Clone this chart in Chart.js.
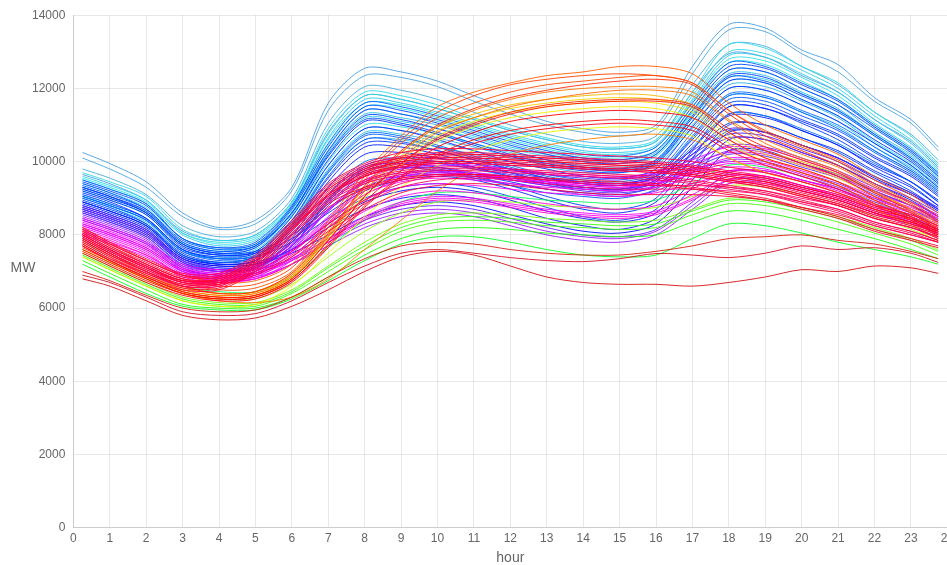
<!DOCTYPE html>
<html><head><meta charset="utf-8">
<script src="https://cdn.jsdelivr.net/npm/chart.js@4"></script>
<style>
html,body{margin:0;padding:0;overflow:hidden;background:#fff;}
#wrap{position:relative;width:958px;height:567px;}
</style></head><body>
<div id="wrap"><canvas id="c"></canvas></div>
<script>
// hour of day for every reading
const hours = [0.25,1,2,3,4,5,6,7,8,9,10,11,12,13,14,15,16,17,18,19,20,21,22,23,23.75];
const yMin = 0, yMax = 14000, yStep = 2000;
const xMin = 0, xMax = 24, xStep = 1;

// pink-red days (thick band)
const pinkHues = [340,345,348,342,350,338,346,352,344,336,347,341,349,343,345,339,348,342,337,350];
const pinkLoads = [
[7950,7550,7100,6700,6750,7250,8200,9150,9700,9950,10050,10050,10000,9950,9900,9850,9800,9700,9550,9400,9150,8900,8550,8300,8050],
[7900,7500,7050,6650,6700,7200,8150,9100,9600,9850,9950,9950,9900,9850,9800,9750,9700,9600,9450,9300,9050,8800,8450,8200,7950],
[8100,7700,7250,6850,6850,7350,8300,9300,9850,10100,10200,10200,10150,10100,10050,10000,9950,9850,9700,9550,9300,9050,8700,8450,8150],
[7850,7450,7000,6600,6650,7150,8050,9000,9500,9750,9850,9850,9800,9750,9700,9650,9600,9500,9350,9200,8950,8700,8350,8100,7850],
[8000,7600,7150,6750,6800,7300,8250,9200,9750,10000,10100,10100,10050,10000,9950,9900,9850,9750,9600,9450,9200,8950,8600,8350,8100],
[7800,7400,6950,6600,6600,7100,8000,8900,9400,9650,9750,9750,9700,9650,9600,9550,9500,9400,9250,9100,8850,8600,8250,8000,7800],
[8200,7800,7350,6950,6950,7450,8400,9400,9950,10250,10350,10350,10300,10250,10200,10150,10100,10000,9850,9700,9450,9150,8800,8550,8250],
[7750,7350,6900,6550,6550,7050,7950,8850,9300,9550,9650,9650,9600,9550,9500,9450,9400,9300,9150,9000,8750,8500,8150,7900,7700],
[7900,7500,7050,6700,6650,6900,7400,8100,8700,9150,9350,9400,9350,9250,9150,9100,9100,9100,9050,8950,8750,8550,8250,8000,7800],
[8000,7600,7150,6750,6700,7000,7550,8300,8950,9400,9600,9650,9600,9500,9400,9350,9350,9350,9300,9200,9000,8800,8450,8200,7950],
[7700,7300,6850,6500,6500,7000,7850,8750,9250,9500,9600,9600,9550,9500,9450,9400,9350,9250,9100,8950,8700,8450,8100,7850,7650],
[8150,7750,7300,6900,6900,7400,8350,9350,9900,10150,10250,10250,10200,10150,10100,10050,10000,9900,9750,9600,9350,9100,8750,8500,8200],
[7950,7550,7100,6750,6750,7250,8200,9100,9650,9900,10000,10000,9950,9900,9850,9800,9750,9650,9500,9350,9100,8850,8500,8250,8000],
[8050,7650,7200,6800,6800,7300,8250,9250,9800,10050,10150,10150,10100,10050,10000,9950,9900,9800,9650,9500,9250,9000,8650,8400,8100],
[8050,7650,7200,6800,6750,7250,8150,9050,9600,9900,10000,10000,9950,9900,9850,9800,9750,9650,9500,9350,9100,8850,8550,8300,8050],
[7850,7450,7000,6650,6650,7150,8100,9050,9600,9850,9950,9950,9900,9850,9800,9750,9700,9600,9450,9300,9050,8800,8450,8200,7900],
[8150,7750,7300,6900,6850,7350,8300,9250,9800,10100,10200,10200,10150,10100,10050,10000,9950,9850,9700,9550,9300,9050,8700,8450,8150],
[7750,7350,6950,6600,6600,7100,8000,8950,9450,9700,9800,9800,9750,9700,9650,9600,9550,9450,9300,9150,8900,8650,8300,8050,7800],
[8000,7600,7150,6750,6700,6950,7450,8200,8850,9300,9500,9550,9500,9400,9300,9250,9250,9250,9200,9100,8900,8700,8350,8100,7850],
[7950,7550,7100,6700,6700,7200,8150,9100,9700,10000,10100,10100,10050,10000,9950,9900,9850,9750,9600,9450,9200,8950,8600,8350,8050]
];

// lowest red days
const lowRedHues = [0,355,5];
const lowRedLoads = [
[6800,6600,6200,5800,5680,5730,6050,6500,7000,7400,7550,7450,7150,6850,6700,6650,6650,6600,6700,6850,7050,7000,7150,7100,6950],
[6900,6700,6300,5900,5800,5850,6200,6700,7150,7500,7600,7500,7380,7300,7270,7350,7490,7450,7380,7500,7700,7600,7650,7500,7250],
[7000,6750,6350,6000,5900,5950,6300,6850,7350,7700,7800,7750,7600,7500,7450,7450,7550,7700,7900,7950,8000,7850,7750,7550,7350]
];

// summer red / orange days
const summerHues = [22,18,10,25,5,0,355,30,15,8,28,2];
const summerLoads = [
[8200,7800,7300,6900,6700,6750,7200,8400,9700,10700,11500,11900,12150,12350,12450,12600,12600,12400,11600,11000,10600,10200,9600,9100,8600],
[8000,7600,7100,6700,6500,6550,7000,8200,9500,10500,11200,11600,11900,12100,12200,12300,12350,12150,11400,10800,10400,10000,9400,8900,8400],
[7900,7500,7000,6600,6400,6450,6950,8050,9350,10300,11000,11450,11750,11950,12100,12200,12250,12100,11300,10700,10300,9900,9350,8850,8350],
[7800,7400,6900,6500,6350,6400,6850,7950,9200,10100,10800,11200,11500,11700,11850,11950,11950,11800,11100,10500,10100,9750,9200,8700,8200],
[7700,7300,6850,6450,6300,6350,6800,7850,9050,9950,10600,11000,11300,11500,11600,11650,11650,11500,10800,10300,9950,9600,9050,8600,8100],
[7600,7250,6800,6400,6250,6300,6750,7750,8900,9750,10400,10800,11100,11250,11350,11400,11350,11200,10600,10100,9800,9450,8950,8500,8050],
[7500,7150,6700,6350,6200,6250,6700,7650,8750,9550,10150,10500,10750,10900,11000,11050,11000,10850,10300,9900,9600,9250,8800,8400,7950],
[7700,7300,6800,6400,6200,6150,6300,6800,7600,8400,9200,9800,10200,10450,10600,10700,10750,10600,10100,9700,9450,9150,8700,8300,7900],
[8100,7700,7200,6800,6600,6650,7100,8300,9600,10600,11350,11800,12100,12250,12350,12400,12350,12150,11400,10850,10450,10050,9500,9000,8500],
[7650,7300,6850,6450,6300,6350,6800,7850,9050,9950,10650,11050,11350,11550,11650,11700,11700,11550,10900,10400,10050,9700,9150,8650,8150],
[7850,7450,6950,6550,6400,6450,6900,8000,9300,10250,10950,11400,11700,11900,12000,12050,12050,11900,11150,10600,10200,9850,9300,8800,8300],
[7550,7200,6750,6400,6250,6300,6750,7700,8800,9600,10200,10600,10850,11000,11100,11150,11100,10950,10400,10000,9700,9350,8850,8450,8000]
];

// yellow days
const yellowHues = [52,55,58,45,62];
const yellowLoads = [
[7800,7400,6900,6500,6350,6400,6900,8000,9200,10150,10850,11200,11450,11600,11700,11750,11700,11450,10700,10200,9900,9550,9050,8600,8150],
[7700,7300,6850,6450,6300,6350,6850,7950,9100,10050,10700,11100,11350,11500,11600,11650,11600,11350,10600,10100,9800,9450,8950,8500,8050],
[7600,7250,6800,6400,6250,6300,6800,7900,9000,9900,10550,10950,11200,11350,11450,11500,11450,11200,10500,10000,9700,9350,8850,8400,7950],
[7900,7500,7000,6600,6400,6450,6950,8100,9300,10250,10950,11300,11550,11700,11800,11850,11800,11550,10800,10300,10000,9650,9150,8700,8250],
[7400,7050,6600,6200,6050,6100,6600,7500,8500,9300,9900,10300,10600,10800,10900,10950,10900,10700,10100,9700,9450,9150,8700,8250,7800]
];

// magenta days
const magentaHues = [290,295,300,305,298,310,288,302,293,307,296,304];
const magentaLoads = [
[8300,8050,7650,7050,6900,7000,7600,8500,9300,9650,9750,9700,9600,9500,9450,9400,9500,9800,10000,9950,9650,9350,9000,8700,8400],
[8200,7950,7550,6950,6800,6900,7500,8400,9200,9550,9650,9600,9500,9400,9350,9300,9400,9650,9850,9800,9500,9250,8900,8600,8300],
[8350,8100,7700,7100,6950,7050,7550,8350,9100,9500,9650,9650,9550,9450,9350,9300,9400,9750,10100,10050,9750,9450,9050,8750,8450],
[8150,7900,7500,6900,6750,6850,7400,8300,9100,9450,9550,9500,9400,9300,9250,9200,9300,9550,9750,9700,9450,9150,8800,8550,8250],
[8250,8000,7600,7000,6850,6900,7300,7900,8500,8900,9050,9000,8850,8700,8600,8550,8650,9100,9600,9600,9350,9100,8750,8450,8150],
[8100,7850,7450,6900,6750,6800,7200,7800,8400,8800,8950,8900,8750,8600,8500,8450,8550,8950,9400,9400,9200,8950,8600,8300,8050],
[8400,8150,7750,7150,7000,7100,7700,8650,9450,9800,9900,9850,9750,9650,9600,9550,9650,9950,10250,10200,9900,9600,9150,8800,8500],
[8000,7750,7400,6850,6700,6800,7300,8200,8950,9300,9400,9350,9250,9150,9100,9050,9150,9400,9650,9600,9350,9050,8700,8400,8150],
[8450,8200,7800,7200,7050,7150,7750,8700,9500,9850,9950,9900,9800,9700,9650,9600,9700,10050,10400,10350,10050,9700,9250,8900,8550],
[8300,8050,7650,7050,6900,6950,7350,8000,8650,9050,9200,9150,9000,8850,8750,8700,8800,9250,9750,9750,9500,9200,8850,8550,8250],
[8250,8000,7600,7000,6850,6950,7550,8450,9250,9600,9700,9650,9550,9450,9400,9350,9450,9700,9950,9900,9600,9300,8950,8650,8350],
[8050,7800,7450,6900,6750,6800,7200,7850,8450,8850,9000,8950,8800,8650,8550,8500,8600,9000,9500,9500,9250,9000,8650,8350,8100]
];

// green days
const greenHues = [95,105,115,125,85,110,140];
const greenLoads = [
[7500,7150,6700,6300,6150,6150,6500,7150,7800,8300,8550,8600,8550,8450,8400,8350,8400,8700,9000,8950,8750,8500,8200,7900,7600],
[7400,7050,6600,6200,6050,6050,6400,7000,7600,8100,8350,8400,8350,8250,8200,8150,8200,8550,8850,8800,8600,8350,8050,7750,7450],
[7300,6950,6500,6100,6000,6000,6300,6850,7450,7900,8150,8200,8150,8050,8000,7950,8000,8350,8650,8600,8400,8150,7900,7600,7350],
[7200,6850,6400,6050,5950,5950,6250,6750,7300,7750,7950,7950,7800,7600,7450,7400,7450,7900,8300,8250,8050,7800,7600,7400,7200],
[7600,7250,6800,6400,6250,6250,6650,7400,8100,8600,8900,8950,8900,8800,8750,8700,8750,9050,9350,9300,9100,8850,8500,8150,7850],
[7450,7100,6650,6250,6100,6100,6450,7100,7700,8200,8450,8500,8450,8350,8300,8250,8300,8650,8950,8900,8700,8450,8150,7850,7550],
[7800,7450,7000,6600,6450,6450,6850,7650,8400,8900,9150,9150,9050,8950,8900,8850,8950,9400,9900,9850,9600,9300,8900,8500,8100]
];

// violet days
const violetHues = [255,260,265,270,262,275,258,268,252,272];
const violetLoads = [
[8800,8550,8150,7350,7100,7200,7900,9100,9900,10100,10100,9950,9800,9650,9550,9500,9700,10300,10900,10800,10450,10100,9600,9150,8750],
[8700,8450,8050,7250,7000,7100,7800,8950,9750,9950,9950,9800,9650,9500,9400,9350,9550,10100,10650,10600,10250,9900,9400,9000,8600],
[8600,8350,7950,7150,6950,7050,7700,8800,9600,9800,9850,9700,9550,9400,9300,9250,9400,9950,10450,10400,10100,9750,9300,8900,8500],
[8550,8300,7900,7100,6900,7000,7650,8700,9450,9700,9750,9650,9500,9350,9250,9200,9350,9850,10300,10250,9950,9600,9200,8800,8450],
[8700,8450,8050,7300,7050,7050,7350,7900,8400,8700,8800,8700,8450,8200,8000,7950,8150,8900,9700,9750,9500,9250,8850,8500,8150],
[8500,8250,7850,7100,6900,6950,7300,7800,8300,8600,8700,8600,8350,8100,7950,7900,8100,8800,9500,9550,9300,9050,8700,8350,8000],
[8650,8400,8000,7250,7000,7100,7800,8850,9650,9850,9800,9650,9500,9350,9200,9150,9300,9800,10200,10150,9850,9550,9100,8700,8350],
[8450,8200,7800,7050,6850,6950,7600,8650,9400,9600,9650,9550,9400,9250,9100,9050,9200,9700,10050,10000,9700,9400,9000,8600,8250],
[8750,8500,8100,7300,7050,7150,7850,9000,9800,10000,10000,9850,9700,9550,9450,9400,9600,10200,10750,10700,10350,10000,9500,9100,8700],
[8400,8150,7750,7000,6800,6850,7200,7700,8200,8500,8600,8500,8250,8000,7850,7800,8000,8700,9400,9450,9200,8950,8600,8250,7900]
];

// blue winter days
const blueHues = [218,222,225,228,230,215,220,232,226,224,235,238,212,229,221,233,217,236,223,227,231,219];
const blueLoads = [
[9500,9250,8850,7900,7650,7800,8800,10500,11600,11500,11250,10950,10650,10400,10200,10150,10400,11600,12700,12600,12150,11700,11000,10350,9700],
[9400,9150,8700,7800,7550,7700,8700,10300,11400,11300,11050,10750,10450,10200,10000,9950,10200,11400,12500,12450,12000,11550,10900,10250,9600],
[9300,9050,8650,7750,7500,7650,8600,10200,11250,11150,10900,10600,10300,10050,9850,9800,10050,11250,12350,12300,11850,11400,10750,10100,9500],
[9200,8950,8550,7650,7450,7550,8500,10050,11100,11000,10750,10450,10150,9900,9750,9700,9950,11100,12200,12150,11700,11250,10600,10000,9400],
[9150,8900,8450,7600,7400,7500,8400,9900,10900,10850,10600,10300,10000,9800,9600,9550,9800,10950,12000,11950,11550,11100,10500,9900,9300],
[9050,8800,8400,7550,7350,7450,8300,9750,10750,10700,10450,10150,9900,9650,9500,9450,9700,10800,11850,11800,11400,11000,10400,9800,9250],
[9000,8750,8300,7450,7250,7400,8200,9600,10600,10550,10300,10050,9800,9550,9400,9350,9600,10650,11700,11650,11250,10850,10250,9700,9150],
[8900,8650,8250,7400,7200,7300,8100,9450,10400,10400,10200,9950,9700,9450,9300,9250,9500,10500,11500,11450,11100,10700,10100,9600,9050],
[9300,9050,8600,7750,7500,7550,8000,8700,9300,9600,9700,9600,9350,9050,8800,8700,9000,10300,11500,11450,11050,10600,10000,9450,8900],
[9100,8850,8450,7600,7350,7400,7800,8450,9000,9300,9400,9300,9050,8750,8500,8400,8700,9900,11000,11000,10650,10250,9700,9200,8700],
[8900,8650,8250,7450,7200,7250,7600,8200,8700,9000,9100,9000,8750,8450,8250,8150,8450,9500,10600,10600,10250,9900,9400,8950,8500],
[8800,8550,8150,7350,7150,7200,7500,8000,8500,8800,8900,8800,8550,8300,8100,8050,8300,9300,10300,10300,9950,9650,9200,8800,8400],
[8700,8450,8050,7300,7100,7150,7800,9100,10000,10100,10000,9800,9600,9400,9300,9250,9500,10400,11300,11250,10900,10500,9950,9450,8900],
[8600,8350,7950,7200,7000,7100,7700,8950,9850,9950,9850,9650,9450,9250,9150,9100,9350,10200,11050,11000,10650,10300,9750,9300,8800],
[9350,9100,8700,7850,7600,7700,8600,10150,11150,11050,10800,10500,10200,9950,9800,9750,10000,11200,12300,12200,11800,11350,10700,10050,9450],
[8850,8600,8200,7400,7200,7300,8000,9300,10200,10250,10100,9850,9600,9400,9250,9200,9450,10350,11250,11200,10850,10450,9900,9450,8950],
[9050,8800,8400,7550,7300,7400,8250,9700,10700,10650,10400,10100,9850,9600,9450,9400,9650,10700,11800,11750,11350,10900,10300,9750,9200],
[8750,8500,8100,7350,7150,7200,7600,8300,8900,9200,9300,9200,8950,8650,8450,8350,8600,9700,10800,10800,10450,10100,9550,9100,8650],
[9450,9200,8800,7900,7650,7750,8750,10400,11500,11400,11150,10850,10550,10300,10100,10050,10300,11500,12600,12550,12100,11650,10950,10300,9650],
[8950,8700,8300,7500,7250,7350,8150,9550,10500,10500,10300,10050,9800,9550,9400,9350,9600,10600,11600,11550,11150,10750,10150,9650,9100],
[9250,9000,8600,7700,7450,7500,7900,8600,9200,9500,9600,9500,9250,8950,8700,8600,8900,10100,11300,11250,10850,10450,9850,9350,8800],
[8650,8400,8000,7250,7050,7100,7700,8900,9750,9850,9750,9550,9350,9150,9050,9000,9250,10050,10850,10800,10450,10100,9600,9150,8700]
];

// cyan winter days
const cyanHues = [185,190,180,195,188,183,192,197,186,193,182,198];
const cyanLoads = [
[9700,9450,9050,8150,7850,8000,8900,10900,11900,11800,11550,11200,10900,10650,10450,10400,10600,11900,13200,13100,12600,12150,11350,10700,9950],
[9500,9250,8850,8000,7700,7850,8750,10650,11700,11600,11350,11050,10750,10500,10300,10250,10450,11700,12900,12850,12400,11900,11150,10500,9800],
[9400,9150,8750,7900,7600,7750,8650,10450,11500,11450,11200,10900,10600,10350,10150,10100,10300,11500,12700,12650,12200,11700,10950,10300,9700],
[9300,9050,8650,7800,7550,7700,8600,10300,11400,11300,11100,10800,10500,10250,10100,10050,10250,11400,12500,12450,12000,11550,10800,10200,9600],
[9200,8950,8550,7700,7450,7600,8500,10150,11200,11100,10900,10650,10350,10150,10000,9950,10150,11300,12300,12250,11850,11400,10700,10100,9500],
[9100,8850,8450,7600,7400,7550,8400,10000,11000,10950,10750,10500,10250,10050,9900,9850,10050,11200,12200,12150,11700,11250,10550,9950,9400],
[9000,8750,8350,7550,7350,7450,8300,9800,10800,10750,10550,10300,10100,9950,9800,9750,9950,11000,12000,11950,11550,11100,10400,9850,9300],
[8900,8650,8250,7450,7250,7400,8200,9700,10600,10600,10400,10200,10000,9850,9700,9700,9900,10900,11800,11750,11350,10950,10300,9750,9200],
[9600,9350,8950,8050,7800,7950,8850,10750,11800,11700,11450,11150,10850,10600,10400,10350,10550,11800,13000,12950,12500,12000,11250,10600,9900],
[9250,9000,8600,7750,7500,7650,8550,10250,11300,11200,11000,10700,10400,10200,10050,10000,10200,11350,12400,12350,11900,11450,10750,10150,9550],
[9550,9300,8900,8050,7750,7900,8800,10600,11600,11550,11300,11000,10700,10450,10250,10200,10400,11650,12800,12750,12300,11800,11050,10400,9750],
[9050,8800,8400,7600,7350,7500,8350,9900,10900,10850,10650,10400,10150,10000,9850,9800,10000,11100,12100,12050,11650,11200,10500,9900,9350]
];

// steel-blue coldest days
const steelHues = [205,203,200,207];
const steelLoads = [
[10250,9950,9450,8600,8200,8400,9300,11600,12550,12450,12200,11800,11450,11100,10900,10800,11000,12600,13750,13650,13050,12650,11750,11150,10400],
[10100,9800,9300,8500,8150,8300,9200,11400,12350,12300,12050,11650,11300,11000,10800,10700,10900,12400,13600,13550,12950,12450,11650,11050,10300],
[9800,9550,9100,8250,7950,8100,9000,11050,12050,11950,11700,11350,11000,10750,10550,10500,10700,12100,13200,13150,12600,12100,11350,10750,10050],
[9650,9400,8950,8100,7850,8000,8900,10800,11800,11700,11450,11150,10850,10600,10400,10350,10550,11900,12950,12850,12350,11900,11150,10550,9850]
];

// drawing groups, first listed is drawn on top
const groups = [
  {hues: pinkHues, loads: pinkLoads, s: 100, l: 50},
  {hues: lowRedHues, loads: lowRedLoads, s: 85, l: 45},
  {hues: summerHues, loads: summerLoads, s: 100, l: 50},
  {hues: yellowHues, loads: yellowLoads, s: 100, l: 48},
  {hues: magentaHues, loads: magentaLoads, s: 100, l: 50},
  {hues: greenHues, loads: greenLoads, s: 100, l: 52},
  {hues: violetHues, loads: violetLoads, s: 100, l: 55},
  {hues: blueHues, loads: blueLoads, s: 100, l: 50},
  {hues: cyanHues, loads: cyanLoads, s: 80, l: 55},
  {hues: steelHues, loads: steelLoads, s: 70, l: 58}
];

const datasets = [];
groups.forEach(g => {
  g.loads.forEach((vals, i) => {
    datasets.push({
      data: hours.map((h, k) => ({x: h, y: vals[k]})),
      borderColor: `hsla(${g.hues[i]}, ${g.s}%, ${g.l}%, 0.9)`,
      borderWidth: 1,
      pointRadius: 0,
      tension: 0.3,
      fill: false
    });
  });
});

const mwLabel = {
  id: 'mwLabel',
  afterDraw(chart) {
    const ctx = chart.ctx;
    ctx.save();
    ctx.font = '14px Arial, "Liberation Sans", sans-serif';
    ctx.fillStyle = '#666';
    ctx.textAlign = 'center';
    ctx.textBaseline = 'middle';
    ctx.fillText('MW', 23, 268);
    ctx.restore();
  }
};

Chart.defaults.font.family = 'Arial, "Liberation Sans", sans-serif';
new Chart(document.getElementById('c'), {
  type: 'line',
  data: {datasets},
  plugins: [mwLabel],
  options: {
    responsive: true,
    maintainAspectRatio: false,
    animation: false,
    layout: {padding: {left: 24, top: 8, right: 0, bottom: 0}},
    plugins: {legend: {display: false}, tooltip: {enabled: false}},
    scales: {
      x: {
        type: 'linear', min: xMin, max: xMax,
        ticks: {stepSize: xStep, color: '#666', font: {size: 12}, padding: 4, maxRotation: 0, autoSkip: false},
        grid: {color: 'rgba(0,0,0,0.09)', drawTicks: false},
        border: {color: 'rgba(0,0,0,0.12)'},
        title: {display: true, text: 'hour', color: '#666', font: {size: 14}, padding: {top: 0, bottom: 0}}
      },
      y: {
        min: yMin, max: yMax,
        ticks: {stepSize: yStep, color: '#666', font: {size: 12}, padding: 8, callback: v => String(v)},
        grid: {color: 'rgba(0,0,0,0.09)', drawTicks: false},
        border: {color: 'rgba(0,0,0,0.12)'}
      }
    }
  }
});
</script>
</body></html>
